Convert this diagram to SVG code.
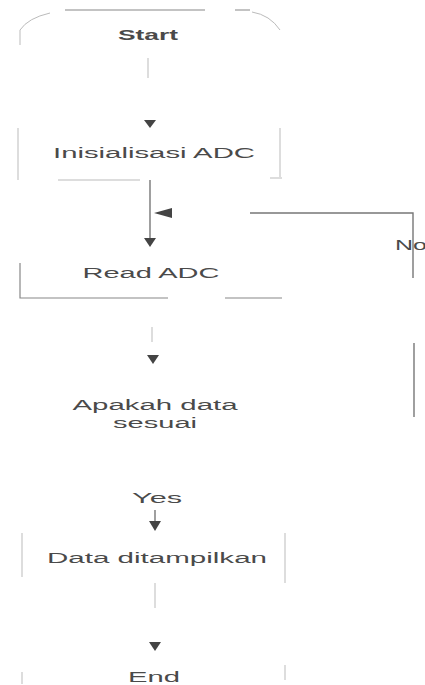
<svg xmlns="http://www.w3.org/2000/svg" width="425" height="685" viewBox="0 0 425 685">
<defs>
<style>
.t{font-family:"Liberation Sans",Arial,sans-serif;font-size:14px;fill:#4a4a4a;text-anchor:middle}
.b{fill:none;stroke:#888;stroke-width:1.2}
.f{fill:none;stroke:#bbb;stroke-width:1}
.c{fill:none;stroke:#777;stroke-width:1.4}
.h{fill:#444}
</style>
</defs>
<rect width="425" height="685" fill="#fff"/>
<g id="start">
<path class="b" d="M65 10 H205 M235 10 H250"/>
<path class="f" d="M50 13 Q28 18 20 30 V45 M252 12 Q270 15 280 30"/>
<text class="t" x="148" y="40" font-weight="bold" textLength="60" lengthAdjust="spacingAndGlyphs">Start</text>
</g>
<g id="init">
<path class="f" d="M18 128 V180 M280 128 V177 M58 180 H140 M270 178 H282"/>
<text class="t" x="154" y="158" textLength="202" lengthAdjust="spacingAndGlyphs">Inisialisasi ADC</text>
</g>
<g id="read">
<path class="b" d="M20 263 V298 H168 M225 298 H282"/>
<text class="t" x="151" y="278" font-size="15" textLength="137" lengthAdjust="spacingAndGlyphs">Read ADC</text>
</g>
<g id="decision">
<text class="t" x="155" y="410" textLength="165" lengthAdjust="spacingAndGlyphs">Apakah data</text>
<text class="t" x="155" y="428" font-size="12" textLength="84" lengthAdjust="spacingAndGlyphs">sesuai</text>
</g>
<g id="display">
<path class="f" d="M22 533 V577 M285 533 V583"/>
<text class="t" x="157" y="563" textLength="220" lengthAdjust="spacingAndGlyphs">Data ditampilkan</text>
</g>
<g id="end">
<path class="f" d="M22 672 V684 M285 665 V680"/>
<text class="t" x="154" y="682" textLength="52" lengthAdjust="spacingAndGlyphs">End</text>
</g>
<g id="connectors">
<path class="f" d="M148 58 V78"/>
<path class="h" d="M144 120 H156 L150 128 Z"/>
<path class="c" d="M150 180 V240"/>
<path class="h" d="M144 238 H156 L150 247 Z"/>
<path class="h" d="M154 213 L172 208 V218 Z"/>
<path class="c" d="M250 213 H413 V278"/>
<path class="c" d="M414 343 V417"/>
<text class="t" x="395" y="250" style="text-anchor:start" textLength="32" lengthAdjust="spacingAndGlyphs">No</text>
<path class="f" d="M152 327 V342"/>
<path class="h" d="M147 355 H159 L153 364 Z"/>
<text class="t" x="157" y="503" textLength="50" lengthAdjust="spacingAndGlyphs">Yes</text>
<path class="c" d="M155 510 V524"/>
<path class="h" d="M149 521 H161 L155 531 Z"/>
<path class="f" d="M155 583 V608"/>
<path class="h" d="M149 642 H161 L155 651 Z"/>
</g>
</svg>
